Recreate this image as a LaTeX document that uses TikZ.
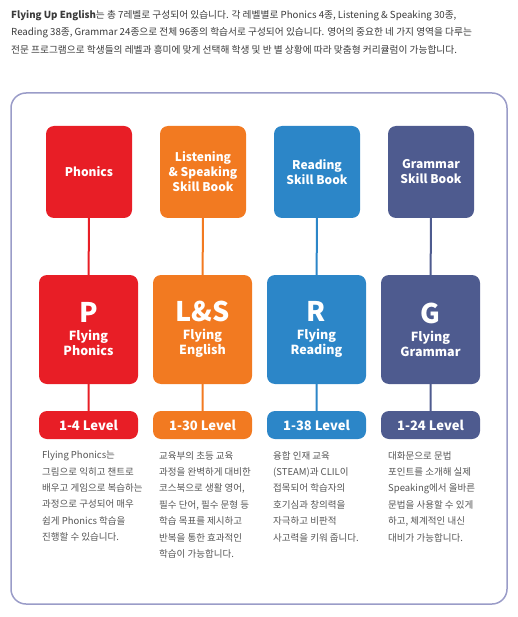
\documentclass[tikz,border=0pt]{standalone}
\usepackage{fontspec}
\setmainfont{Noto Sans CJK KR}
\definecolor{phred}{HTML}{E81E26}
\definecolor{lsorange}{HTML}{F27A21}
\definecolor{rdblue}{HTML}{2C86C8}
\definecolor{grnavy}{HTML}{4E5B8F}
\definecolor{framelav}{HTML}{9A9CC8}
\definecolor{descgray}{HTML}{555555}
\definecolor{headgray}{HTML}{3A3A3A}
\begin{document}
\begin{tikzpicture}[x=1pt, y=-1pt,
    skill/.style={rounded corners=8pt, minimum width=86pt, minimum height=92pt, inner sep=0pt,
        text=white, align=center, font=\fontsize{12}{15}\selectfont\bfseries},
    series/.style={rounded corners=8pt, minimum width=99pt, minimum height=109pt, inner sep=0pt,
        text=white, align=center, font=\fontsize{12.5}{15}\selectfont\bfseries},
    level/.style={rounded corners=8pt, minimum width=99pt, minimum height=28pt, inner sep=0pt,
        text=white, font=\fontsize{13}{15}\selectfont\bfseries},
    desc/.style={anchor=north west, align=left, inner sep=0pt, text=descgray,
        font=\fontsize{9.5}{16.4}\selectfont},
    link/.style={line width=2pt}]
    \useasboundingbox (0,0) rectangle (517,617);

    % Intro text
    \node[anchor=north west, align=left, inner sep=0pt, text=headgray,
        font=\fontsize{9.7}{17.5}\selectfont] (intro) at (11,10)
        {\textbf{Flying Up English}는 총 7레벨로 구성되어 있습니다. 각 레벨별로 Phonics 4종, Listening \& Speaking 30종,\\
         Reading 38종, Grammar 24종으로 전체 96종의 학습서로 구성되어 있습니다. 영어의 중요한 네 가지 영역을 다루는\\
         전문 프로그램으로 학생들의 레벨과 흥미에 맞게 선택해 학생 및 반 별 상황에 따라 맞춤형 커리큘럼이 가능합니다.};

    % Frame
    \draw[framelav, line width=1.5pt, rounded corners=15pt] (11,93) rectangle (507,604);

    % Skill boxes
    \node[skill, fill=phred] (phon) at (89,172) {Phonics};
    \node[skill, fill=lsorange] (lisp) at (203,172) {Listening\\\& Speaking\\Skill Book};
    \node[skill, fill=rdblue] (read) at (317,172) {Reading\\Skill Book};
    \node[skill, fill=grnavy] (gram) at (431,172) {Grammar\\Skill Book};

    % Series boxes
    \node[series, fill=phred] (fphon) at (88.5,329.5)
        {{\fontsize{27}{27}\selectfont P}\\[3pt]Flying\\Phonics};
    \node[series, fill=lsorange] (feng) at (202.5,329.5)
        {{\fontsize{27}{27}\selectfont L\&S}\\[3pt]Flying\\English};
    \node[series, fill=rdblue] (fread) at (316.5,329.5)
        {{\fontsize{27}{27}\selectfont R}\\[3pt]Flying\\Reading};
    \node[series, fill=grnavy] (fgram) at (430.5,329.5)
        {{\fontsize{27}{27}\selectfont G}\\[3pt]Flying\\Grammar};

    % Levels
    \node[level, fill=phred] (lv1) at (88.5,425) {1-4 Level};
    \node[level, fill=lsorange] (lv2) at (202.5,425) {1-30 Level};
    \node[level, fill=rdblue] (lv3) at (316.5,425) {1-38 Level};
    \node[level, fill=grnavy] (lv4) at (430.5,425) {1-24 Level};

    % Links
    \draw[link, phred] (phon) -- (fphon) (fphon) -- (lv1);
    \draw[link, lsorange] (lisp) -- (feng) (feng) -- (lv2);
    \draw[link, rdblue] (read) -- (fread) (fread) -- (lv3);
    \draw[link, grnavy] (gram) -- (fgram) (fgram) -- (lv4);

    % Descriptions
    \node[desc] (d1) at (42,451) {Flying Phonics는\\그림으로 익히고 챈트로\\배우고 게임으로 복습하는\\과정으로 구성되어 매우\\쉽게 Phonics 학습을\\진행할 수 있습니다.};
    \node[desc] (d2) at (159,451) {교육부의 초등 교육\\과정을 완벽하게 대비한\\코스북으로 생활 영어,\\필수 단어, 필수 문형 등\\학습 목표를 제시하고\\반복을 통한 효과적인\\학습이 가능합니다.};
    \node[desc] (d3) at (273,451) {융합 인재 교육\\(STEAM)과 CLIL이\\접목되어 학습자의\\호기심과 창의력을\\자극하고 비판적\\사고력을 키워 줍니다.};
    \node[desc] (d4) at (388,451) {대화문으로 문법\\포인트를 소개해 실제\\Speaking에서 올바른\\문법을 사용할 수 있게\\하고, 체계적인 내신\\대비가 가능합니다.};
\end{tikzpicture}
\end{document}
